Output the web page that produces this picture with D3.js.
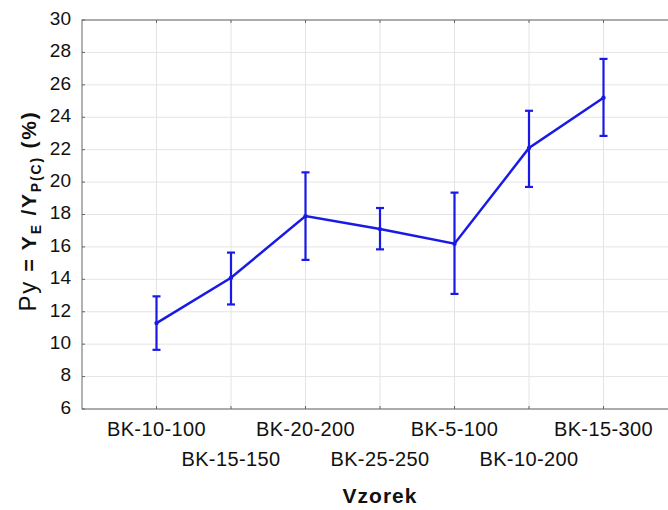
<!DOCTYPE html>
<html>
<head>
<meta charset="utf-8">
<script src="https://cdn.jsdelivr.net/npm/d3@7"></script>
<style>
  body { margin: 0; background: #fff; }
  text { font-family: "Liberation Sans", Arial, sans-serif; fill: #111; }
</style>
</head>
<body>
<div id="chart"></div>
<script>
// values
const samples = ["BK-10-100", "BK-15-150", "BK-20-200", "BK-25-250", "BK-5-100", "BK-10-200", "BK-15-300"];
const meanPy = [11.3, 14.1, 17.9, 17.1, 16.2, 22.1, 25.2];
const lowPy = [9.65, 12.45, 15.2, 15.85, 13.1, 19.7, 22.85];
const highPy = [12.95, 15.65, 20.6, 18.4, 19.35, 24.4, 27.6];
const yTicks = [6, 8, 10, 12, 14, 16, 18, 20, 22, 24, 26, 28, 30];

const W = 668, H = 510;
const margin = { top: 20, right: -10, bottom: 101, left: 82 };
const width = W - margin.left - margin.right;
const height = H - margin.top - margin.bottom;

const svg = d3.select("#chart").append("svg")
    .attr("width", W)
    .attr("height", H);

const g = svg.append("g")
    .attr("transform", "translate(" + margin.left + "," + margin.top + ")");

const x = d3.scalePoint()
    .domain(samples)
    .range([0, width])
    .padding(1);

const y = d3.scaleLinear()
    .domain([6, 30])
    .range([height, 0]);

const data = samples.map((s, i) => ({ s, m: meanPy[i], lo: lowPy[i], hi: highPy[i] }));

// grid
g.append("g")
    .selectAll("line")
    .data(yTicks)
    .join("line")
    .attr("x1", 0).attr("x2", width)
    .attr("y1", d => y(d)).attr("y2", d => y(d))
    .attr("stroke", "#e4e4e4");

g.append("g")
    .selectAll("line")
    .data(samples)
    .join("line")
    .attr("x1", d => x(d)).attr("x2", d => x(d))
    .attr("y1", 0).attr("y2", height)
    .attr("stroke", "#e4e4e4");

// frame
g.append("rect")
    .attr("width", width).attr("height", height)
    .attr("fill", "none")
    .attr("stroke", "#666")
    .attr("stroke-width", 1);

// inner ticks
const ticks = g.append("g").attr("stroke", "#666");
ticks.selectAll(".yt")
    .data(yTicks)
    .join("line")
    .attr("x1", 0).attr("x2", 3)
    .attr("y1", d => y(d)).attr("y2", d => y(d));
ticks.selectAll(".xt")
    .data(samples)
    .join("line")
    .attr("x1", d => x(d)).attr("x2", d => x(d))
    .attr("y1", 0).attr("y2", 3);
ticks.selectAll(".xb")
    .data(samples)
    .join("line")
    .attr("x1", d => x(d)).attr("x2", d => x(d))
    .attr("y1", height).attr("y2", height - 3);

// y tick labels
g.append("g")
    .selectAll("text")
    .data(yTicks)
    .join("text")
    .attr("x", -11)
    .attr("y", d => y(d) - 2)
    .attr("dy", "0.36em")
    .attr("text-anchor", "end")
    .style("font-size", "19px")
    .text(d => d);

// x tick labels, staggered on two rows
g.append("g")
    .selectAll("text")
    .data(samples)
    .join("text")
    .attr("x", d => x(d))
    .attr("y", (d, i) => height + (i % 2 === 0 ? 27 : 57))
    .attr("text-anchor", "middle")
    .style("font-size", "20px")
    .style("letter-spacing", "0.4px")
    .text(d => d);

// axis titles
svg.append("text")
    .attr("x", margin.left + x(samples[3]))
    .attr("y", 503)
    .attr("text-anchor", "middle")
    .style("font-size", "21px")
    .style("font-weight", "bold")
    .style("letter-spacing", "1px")
    .text("Vzorek");

const yl = svg.append("text")
    .attr("transform", "translate(36,211) rotate(-90)")
    .attr("text-anchor", "middle")
    .style("font-size", "21px")
    .style("letter-spacing", "1.8px");
yl.append("tspan").style("font-size", "24px").text("Py ");
yl.append("tspan").style("font-weight", "bold").text("= Y");
yl.append("tspan").attr("dy", 5).style("font-weight", "bold").style("font-size", "14px").text("E");
yl.append("tspan").attr("dy", -5).style("font-weight", "bold").text(" /Y");
yl.append("tspan").attr("dy", 5).style("font-weight", "bold").style("font-size", "14px").text("P(C)");
yl.append("tspan").attr("dy", -5).style("font-weight", "bold").text(" (%)");

// series
const blue = "#1a1ae6";
g.append("path")
    .datum(data)
    .attr("fill", "none")
    .attr("stroke", blue)
    .attr("stroke-width", 2.5)
    .attr("d", d3.line().x(d => x(d.s)).y(d => y(d.m)));

const eb = g.append("g").attr("stroke", blue).attr("stroke-width", 2.2);
eb.selectAll(".v")
    .data(data)
    .join("line")
    .attr("x1", d => x(d.s)).attr("x2", d => x(d.s))
    .attr("y1", d => y(d.lo)).attr("y2", d => y(d.hi));
eb.selectAll(".c1")
    .data(data)
    .join("line")
    .attr("x1", d => x(d.s) - 4).attr("x2", d => x(d.s) + 4)
    .attr("y1", d => y(d.lo)).attr("y2", d => y(d.lo));
eb.selectAll(".c2")
    .data(data)
    .join("line")
    .attr("x1", d => x(d.s) - 4).attr("x2", d => x(d.s) + 4)
    .attr("y1", d => y(d.hi)).attr("y2", d => y(d.hi));

g.append("g")
    .selectAll("circle")
    .data(data)
    .join("circle")
    .attr("cx", d => x(d.s))
    .attr("cy", d => y(d.m))
    .attr("r", 2.2)
    .attr("fill", blue);
</script>
</body>
</html>
